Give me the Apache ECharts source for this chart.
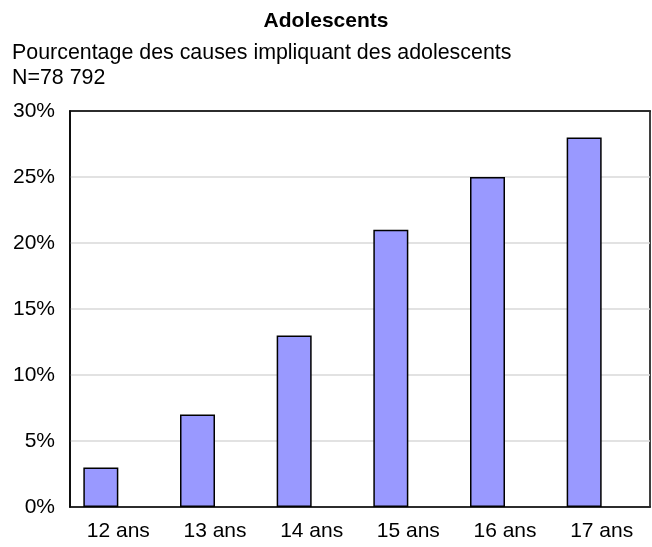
<!DOCTYPE html>
<html>
<head>
<meta charset="utf-8">
<script src="https://cdn.jsdelivr.net/npm/echarts@6/dist/echarts.min.js"></script>
<style>
  html, body { margin: 0; padding: 0; background: #fff; }
  #chart { width: 652px; height: 547px; }
</style>
</head>
<body>
<div id="chart"></div>
<script>
// données
const categories = ['12 ans', '13 ans', '14 ans', '15 ans', '16 ans', '17 ans'];
const pourcentages = [3, 7, 13, 21, 25, 28];
// seconde série vide (décale les barres vers la gauche comme dans Excel)
const serieVide = [null, null, null, null, null, null];
const titre = 'Adolescents';
const sousTitre = ['Pourcentage des causes impliquant des adolescents', 'N=78 792'];

const font = 'Liberation Sans, Arial, sans-serif';
const chart = echarts.init(document.getElementById('chart'));
const option = {
  animation: false,
  backgroundColor: '#fff',
  title: [
    {
      text: titre,
      left: 'center',
      top: 6,
      textStyle: { fontFamily: font, fontSize: 21, fontWeight: 'bold', color: '#000' },
    },
    {
      text: sousTitre.join('\n'),
      left: 7,
      top: 36,
      textStyle: { fontFamily: font, fontSize: 21.4, fontWeight: 'normal', color: '#000', lineHeight: 25 },
    },
  ],
  grid: {
    show: true,
    left: 70,
    right: 2,
    top: 111,
    bottom: 40,
    borderColor: '#000',
    borderWidth: 1.5,
    backgroundColor: '#fff',
  },
  xAxis: [
    {
      type: 'category',
      data: categories,
      axisTick: { show: false },
      axisLine: { lineStyle: { color: '#000', width: 1.5 } },
      axisLabel: { color: '#000', fontFamily: font, fontSize: 21, margin: 14 },
    },
    {
      // bord supérieur du cadre
      type: 'category',
      data: categories,
      position: 'top',
      axisTick: { show: false },
      axisLabel: { show: false },
      axisLine: { lineStyle: { color: '#000', width: 1.5 } },
    },
  ],
  yAxis: {
    type: 'value',
    min: 0,
    max: 30,
    interval: 5,
    axisLine: { show: true, lineStyle: { color: '#000', width: 1.5 } },
    axisTick: { show: false },
    splitLine: { lineStyle: { color: '#d9d9d9', width: 1.5 } },
    axisLabel: { color: '#000', fontFamily: font, fontSize: 21, margin: 15, formatter: '{value}%' },
  },
  series: [
    {
      type: 'bar',
      data: pourcentages,
      barWidth: 35,
      barGap: '0%',
      itemStyle: { color: '#9999ff', borderColor: '#000', borderWidth: 1.5 },
    },
    {
      type: 'bar',
      data: serieVide,
      barWidth: 35,
    },
  ],
};
chart.setOption(option);
</script>
</body>
</html>
